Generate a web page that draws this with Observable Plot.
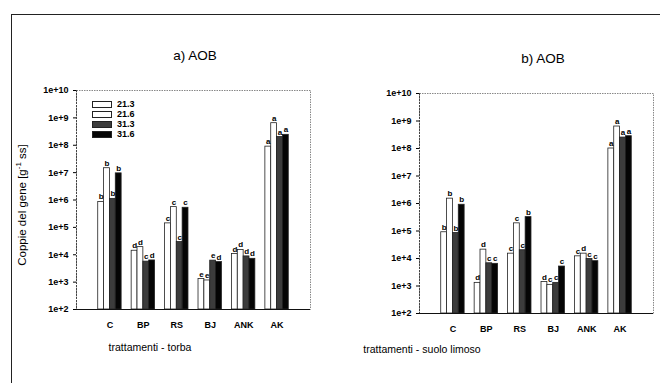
<!DOCTYPE html>
<html><head><meta charset="utf-8">
<script src="https://cdn.jsdelivr.net/npm/d3@7"></script>
<script src="https://cdn.jsdelivr.net/npm/@observablehq/plot@0.6"></script>
<style>
body{margin:0;background:#fff;font-family:"Liberation Sans",Arial,sans-serif;}
#fig{position:relative;width:660px;height:383px;overflow:hidden;background:#fff;}
.border{position:absolute;left:11px;top:14px;width:700px;height:420px;border-top:1.5px solid #222;border-left:1.5px solid #222;}
.panel{position:absolute;top:0;}
.t{position:absolute;transform:translate(-50%,-50%);white-space:nowrap;color:#000;}
.title{font-size:13.5px;}
.xl{font-size:10.5px;}
.yl{font-size:11.5px;transform:translate(-50%,-50%) rotate(-90deg);}
.lg{position:absolute;left:92px;width:20px;height:7px;border:1px solid #222;box-sizing:border-box;}
.lt{position:absolute;left:117px;font-size:9px;font-weight:bold;line-height:9px;color:#000;}
</style>
</head><body>
<div id="fig">
  <div class="border"></div>
  <div class="panel" id="pa" style="left:0"></div>
  <div class="panel" id="pb" style="left:330px"></div>
  <div class="t title" style="left:195px;top:55px">a) AOB</div>
  <div class="t title" style="left:543px;top:58px">b) AOB</div>
  <div class="t xl" style="left:150px;top:347px">trattamenti - torba</div>
  <div class="t xl" style="left:422px;top:349px">trattamenti - suolo limoso</div>
  <div class="t yl" style="left:21px;top:205px">Coppie del gene [g<sup style="font-size:8px">-1</sup> ss]</div>
  <div id="legend"></div>
</div>
<script>
const categories = ["C","BP","RS","BJ","ANK","AK"];
const series = ["21.3","21.6","31.3","31.6"];
const yTicks = [1e2,1e3,1e4,1e5,1e6,1e7,1e8,1e9,1e10];

// a) torba
const torba_21_3 = [8.5e5, 1.4e4, 1.4e5, 1.3e3, 1.07e4, 8.9e7];
const torba_21_6 = [1.45e7, 1.9e4, 5.5e5, 1.15e3, 1.5e4, 6.4e8];
const torba_31_3 = [1.1e6, 5.6e3, 2.9e4, 6.1e3, 8.7e3, 2.0e8];
const torba_31_6 = [9.4e6, 6.2e3, 5.2e5, 5.4e3, 7.1e3, 2.4e8];
const torba_letters_21_3 = ["b","d","c","e","d","a"];
const torba_letters_21_6 = ["b","d","c","e","d","a"];
const torba_letters_31_3 = ["b","c","c","e","d","a"];
const torba_letters_31_6 = ["b","d","c","d","d","a"];

// b) suolo limoso
const limoso_21_3 = [9.0e4, 1.3e3, 1.5e4, 1.4e3, 1.2e4, 1.0e8];
const limoso_21_6 = [1.5e6, 2.1e4, 1.9e5, 1.1e3, 1.5e4, 6.3e8];
const limoso_31_3 = [8.5e4, 6.7e3, 2.0e4, 1.3e3, 9.6e3, 2.5e8];
const limoso_31_6 = [9.0e5, 6.4e3, 3.2e5, 5.1e3, 8.0e3, 2.8e8];
const limoso_letters_21_3 = ["b","d","c","d","c","a"];
const limoso_letters_21_6 = ["b","d","c","c","d","a"];
const limoso_letters_31_3 = ["b","c","c","c","c","a"];
const limoso_letters_31_6 = ["b","c","b","c","c","a"];

const fills = {"21.3":"#ffffff","21.6":"#ffffff","31.3":"#3c3c3c","31.6":"#050505"};
const barW = 0.175;

function build(valueArrays, letterArrays) {
  const rows = [];
  categories.forEach((c, i) => {
    series.forEach((s, j) => {
      const x1 = (i + 1) - 2 * barW + j * barW;
      rows.push({cat: c, series: s, value: valueArrays[j][i], letter: letterArrays[j][i],
                 x1, x2: x1 + barW, xm: x1 + barW / 2});
    });
  });
  return rows;
}

function panel(rows, m) {
  return Plot.plot({
    width: 330, height: 383,
    marginLeft: m.left, marginRight: m.right, marginTop: m.top, marginBottom: m.bottom,
    style: {fontFamily: "Liberation Sans, Arial, sans-serif", fontSize: "9px", fontWeight: "bold", color: "#000", background: "transparent"},
    x: {domain: [0, 7], ticks: categories.map((c, i) => i + 1), tickFormat: d => categories[d - 1],
        tickSize: 0, tickPadding: 12, label: null},
    y: {type: "log", domain: [1e2, 1e10], ticks: yTicks,
        tickFormat: d => "1e+" + Math.round(Math.log10(d)), tickSize: 3, tickPadding: 5, label: null},
    marks: [
      Plot.frame({stroke: "#888", strokeDasharray: "1.5,1"}),
      Plot.rectY(rows, {x1: "x1", x2: "x2", y1: 100, y2: "value",
        fill: d => fills[d.series], stroke: "#222", strokeWidth: 0.8}),
      Plot.text(rows, {x: "xm", y: "value", text: "letter", dy: -5, fontSize: 8, fontWeight: "bold", fill: "#000"}),
      Plot.ruleY([100], {stroke: "#111", strokeWidth: 1.2}),
      Plot.ruleX([0], {stroke: "#444", strokeWidth: 1, strokeDasharray: "2,1"})
    ]
  });
}

const rowsA = build([torba_21_3, torba_21_6, torba_31_3, torba_31_6],
  [torba_letters_21_3, torba_letters_21_6, torba_letters_31_3, torba_letters_31_6]);
const rowsB = build([limoso_21_3, limoso_21_6, limoso_31_3, limoso_31_6],
  [limoso_letters_21_3, limoso_letters_21_6, limoso_letters_31_3, limoso_letters_31_6]);

document.getElementById("pa").appendChild(panel(rowsA, {left: 76, right: 20, top: 90, bottom: 74}));
document.getElementById("pb").appendChild(panel(rowsB, {left: 89, right: 7, top: 93, bottom: 70}));

const lg = document.getElementById("legend");
series.forEach((s, j) => {
  const top = 100.5 + j * 10.3;
  const b = document.createElement("div");
  b.className = "lg"; b.style.top = top + "px"; b.style.background = fills[s];
  lg.appendChild(b);
  const t = document.createElement("div");
  t.className = "lt"; t.style.top = (top - 1) + "px"; t.textContent = s;
  lg.appendChild(t);
});
</script>
</body></html>
